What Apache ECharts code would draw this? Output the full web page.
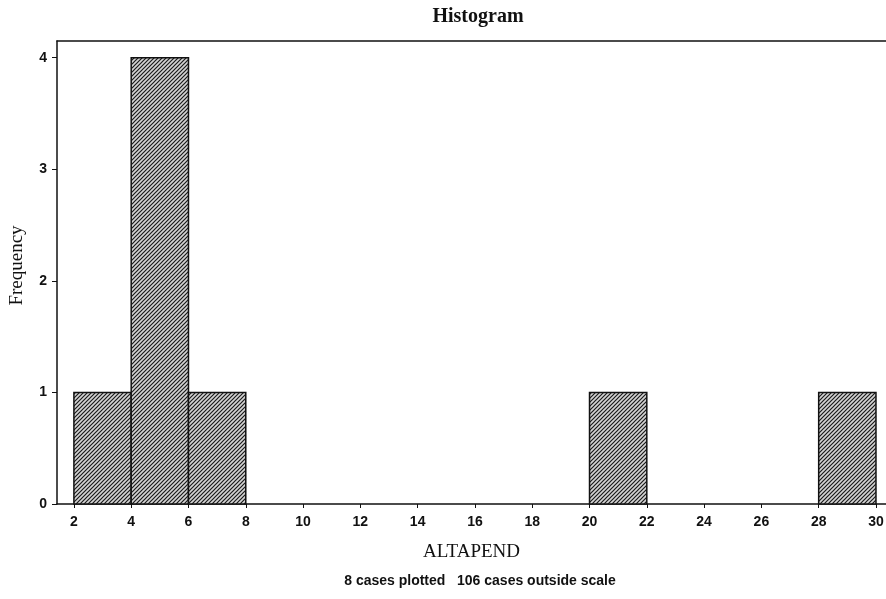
<!DOCTYPE html>
<html>
<head>
<meta charset="utf-8">
<script src="https://cdn.jsdelivr.net/npm/echarts@6/dist/echarts.min.js"></script>
<style>
  html, body { margin: 0; padding: 0; background: #fff; }
  #chart { width: 886px; height: 599px; }
</style>
</head>
<body>
<div id="chart"></div>
<script>
// histogram bins (ALTAPEND), only non-empty bins listed
const binStart = [2, 4, 6, 20, 28]
const binEnd = [4, 6, 8, 22, 30]
const counts = [1, 4, 1, 1, 1]

const xTicks = [2, 4, 6, 8, 10, 12, 14, 16, 18, 20, 22, 24, 26, 28, 30]
const yTicks = [0, 1, 2, 3, 4]

const titleText = 'Histogram'
const xName = 'ALTAPEND'
const yName = 'Frequency'
const footnote = '8 cases plotted   106 cases outside scale'

// diagonal hatch tile
const makeHatch = () => {
  const c = document.createElement('canvas')
  c.width = 4
  c.height = 4
  const ctx = c.getContext('2d')
  ctx.fillStyle = '#d4d4d4'
  ctx.fillRect(0, 0, 4, 4)
  ctx.strokeStyle = '#1a1a1a'
  ctx.lineWidth = 1.2
  ctx.beginPath()
  ctx.moveTo(-1, 5); ctx.lineTo(5, -1)
  ctx.moveTo(-1, 1); ctx.lineTo(1, -1)
  ctx.moveTo(3, 5); ctx.lineTo(5, 3)
  ctx.stroke()
  return c
}
const hatch = { image: makeHatch(), repeat: 'repeat' }

const data = binStart.map((s, i) => [s, binEnd[i], counts[i]])

const chart = echarts.init(document.getElementById('chart'), null, { renderer: 'canvas' })

chart.setOption({
  animation: false,
  backgroundColor: '#fff',
  title: [
    {
      text: titleText,
      left: 473,
      textAlign: 'center',
      top: 2,
      textStyle: { fontFamily: 'Liberation Serif', fontSize: 20, fontWeight: 'bold', color: '#111' },
    },
    {
      text: footnote,
      left: 475,
      textAlign: 'center',
      top: 569,
      textStyle: { fontFamily: 'Liberation Sans', fontSize: 14, fontWeight: 'bold', color: '#111' },
    },
  ],
  grid: { left: 57, right: 0, top: 41, bottom: 95, outerBoundsMode: 'none' },
  xAxis: [
    {
      type: 'value',
      min: 1.41,
      max: 30.35,
      name: xName,
      nameLocation: 'middle',
      nameGap: 39,
      nameTextStyle: { fontFamily: 'Liberation Serif', fontSize: 19, color: '#111' },
      axisLine: { show: true, onZero: false, lineStyle: { color: '#111', width: 1.5 } },
      axisTick: { show: true, customValues: xTicks, length: 4, lineStyle: { color: '#111' } },
      axisLabel: {
        customValues: xTicks,
        margin: 11,
        fontFamily: 'Liberation Sans',
        fontSize: 14,
        fontWeight: 'bold',
        color: '#111',
      },
      splitLine: { show: false },
    },
    {
      type: 'value',
      position: 'top',
      min: 1.41,
      max: 30.35,
      axisLine: { show: true, onZero: false, lineStyle: { color: '#111', width: 1.5 } },
      axisTick: { show: false },
      axisLabel: { show: false },
      splitLine: { show: false },
    },
  ],
  yAxis: {
    type: 'value',
    min: 0,
    max: 4.15,
    name: yName,
    nameLocation: 'middle',
    nameRotate: 90,
    nameGap: 30,
    nameTextStyle: { fontFamily: 'Liberation Serif', fontSize: 19, color: '#111', padding: [0, 0, 0, 14] },
    axisLine: { show: true, onZero: false, lineStyle: { color: '#111', width: 1.5 } },
    axisTick: { show: true, customValues: yTicks, length: 5, lineStyle: { color: '#111' } },
    axisLabel: {
      customValues: yTicks,
      margin: 10,
      fontFamily: 'Liberation Sans',
      fontSize: 14,
      fontWeight: 'bold',
      color: '#111',
    },
    splitLine: { show: false },
  },
  series: [
    {
      type: 'custom',
      xAxisIndex: 0,
      data: data,
      renderItem: (params, api) => {
        const p0 = api.coord([api.value(0), 0])
        const p1 = api.coord([api.value(1), api.value(2)])
        return {
          type: 'rect',
          shape: { x: p0[0], y: p1[1], width: p1[0] - p0[0], height: p0[1] - p1[1] },
          style: { fill: hatch, stroke: '#111', lineWidth: 1.5 },
        }
      },
      encode: { x: [0, 1], y: 2 },
    },
  ],
})
</script>
</body>
</html>
